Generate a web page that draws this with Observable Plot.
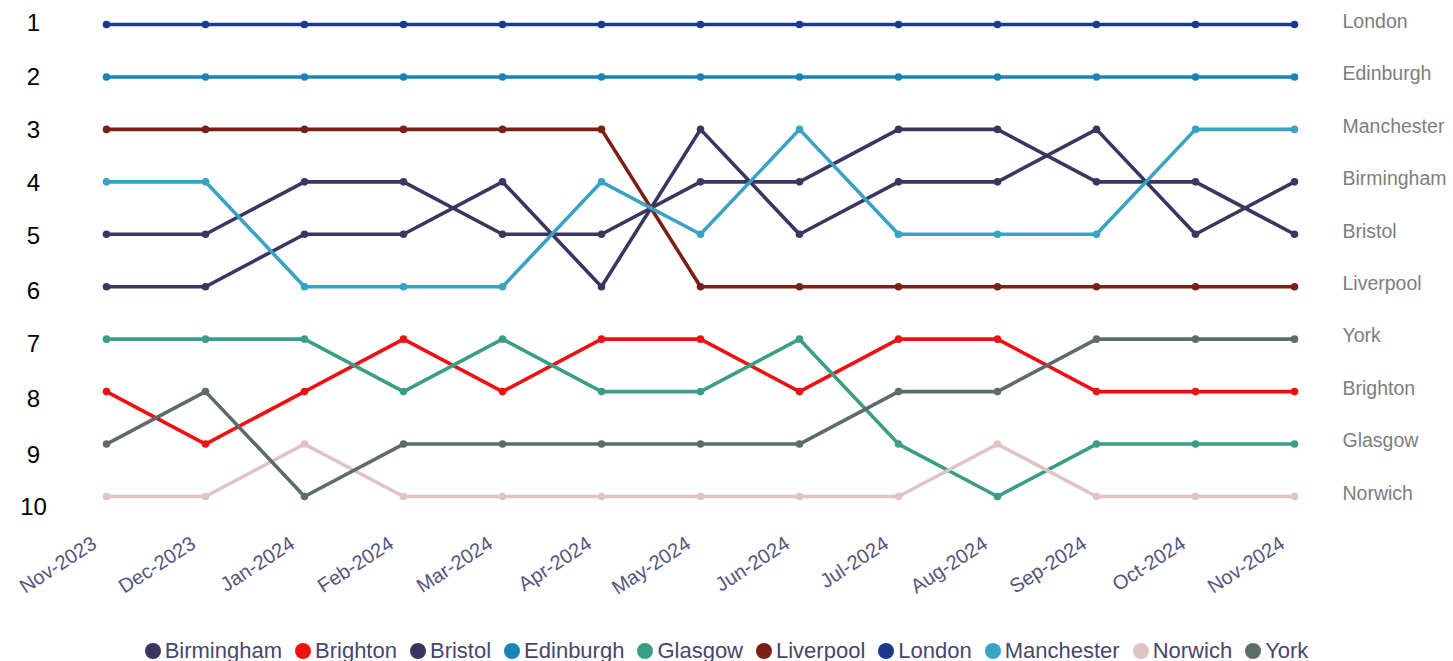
<!DOCTYPE html>
<html>
<head>
<meta charset="utf-8">
<script src="https://cdn.jsdelivr.net/npm/d3@7"></script>
<script src="https://cdn.jsdelivr.net/npm/@observablehq/plot@0.6"></script>
<style>
  html, body { margin: 0; padding: 0; background: #fff; overflow: hidden; }
  #chart svg { display: block; }
  #legend { display: flex; justify-content: center; align-items: center; gap: 13px; height: 29px; padding-top: 4px;
    font-family: "Liberation Sans", Arial, sans-serif; font-size: 22px; color: #47466e; }
  #legend .item { display: flex; align-items: center; gap: 4px; }
  #legend .sw { width: 16px; height: 16px; border-radius: 50%; display: inline-block; }
</style>
</head>
<body>
<div id="chart"></div>
<div id="legend"></div>
<script>
const months = ["Nov-2023","Dec-2023","Jan-2024","Feb-2024","Mar-2024","Apr-2024","May-2024","Jun-2024","Jul-2024","Aug-2024","Sep-2024","Oct-2024","Nov-2024"];
const cities = ["Birmingham","Brighton","Bristol","Edinburgh","Glasgow","Liverpool","London","Manchester","Norwich","York"];
const cityColors = ["#3b3660","#ef1111","#3b3660","#1783b6","#3a9e86","#7a2017","#1a3a8e","#3aa2c2","#dfc4c3","#5e6b6b"];
const rankTicks = [1,2,3,4,5,6,7,8,9,10];

const birmingham = [6,6,5,5,4,6,3,5,4,4,3,5,4];
const brighton   = [8,9,8,7,8,7,7,8,7,7,8,8,8];
const bristol    = [5,5,4,4,5,5,4,4,3,3,4,4,5];
const edinburgh  = [2,2,2,2,2,2,2,2,2,2,2,2,2];
const glasgow    = [7,7,7,8,7,8,8,7,9,10,9,9,9];
const liverpool  = [3,3,3,3,3,3,6,6,6,6,6,6,6];
const london     = [1,1,1,1,1,1,1,1,1,1,1,1,1];
const manchester = [4,4,6,6,6,4,5,3,5,5,5,3,3];
const norwich    = [10,10,9,10,10,10,10,10,10,9,10,10,10];
const york       = [9,8,10,9,9,9,9,9,8,8,7,7,7];

const series = {Birmingham: birmingham, Brighton: brighton, Bristol: bristol, Edinburgh: edinburgh,
  Glasgow: glasgow, Liverpool: liverpool, London: london, Manchester: manchester, Norwich: norwich, York: york};

const data = [];
for (const city of cities) {
  series[city].forEach((rank, i) => data.push({city, month: months[i], rank}));
}
const last = data.filter(d => d.month === months[months.length - 1]);

// the reference's rank labels drift slightly downward from their rows
const labelShift = [-1.5, 0, 1, 1, 2, 5, 5, 8, 11, 11];
const yAxes = rankTicks.map((t, i) => Plot.axisY({ticks: [t], tickSize: 0, tickPadding: 72, textAnchor: "middle",
  fontSize: 24, fill: "#000", dy: labelShift[i], tickFormat: d => String(d), label: null}));

const chart = Plot.plot({
  width: 1453,
  height: 632,
  marginLeft: 105,
  marginRight: 158,
  marginTop: 24,
  marginBottom: 136,
  style: {fontFamily: "'Liberation Sans', Arial, sans-serif", background: "#fff"},
  x: {type: "point", domain: months, padding: 0, label: null},
  y: {domain: [1, 10], reverse: true, label: null},
  color: {domain: cities, range: cityColors},
  marks: [
    ...yAxes,
    Plot.axisX({tickSize: 0, tickPadding: 45, dx: -12, tickRotate: -33, fontSize: 20, fill: "#55547d", label: null}),
    Plot.line(data, {x: "month", y: "rank", z: "city", stroke: "city", strokeWidth: 3.6}),
    Plot.dot(data, {x: "month", y: "rank", fill: "city", r: 3.8}),
    Plot.text(last, {x: "month", y: "rank", text: "city", dx: 48, dy: -3, textAnchor: "start", fill: "#7d7d7d", fontSize: 19.5})
  ]
});
document.getElementById("chart").append(chart);

const legend = document.getElementById("legend");
cities.forEach((c, i) => {
  const item = document.createElement("span");
  item.className = "item";
  const sw = document.createElement("span");
  sw.className = "sw";
  sw.style.background = cityColors[i];
  const t = document.createElement("span");
  t.textContent = c;
  item.append(sw, t);
  legend.append(item);
});
</script>
</body>
</html>
